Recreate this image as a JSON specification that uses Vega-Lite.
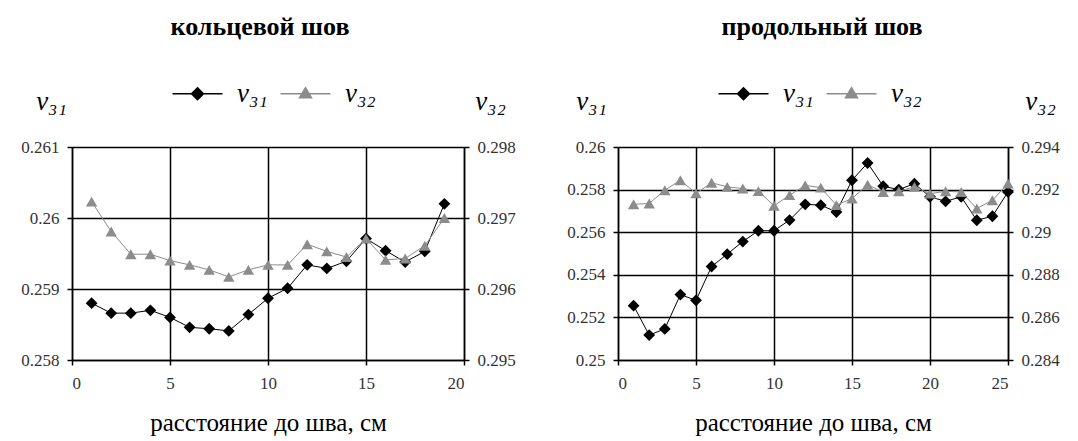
{
  "$schema": "https://vega.github.io/schema/vega-lite/v6.json",
  "padding": {"left": 20, "top": 14, "right": 2, "bottom": 2},
  "background": "white",
  "bounds": "flush",
  "spacing": 154,
  "config": {
    "view": {"stroke": null},
    "font": "Liberation Serif",
    "axis": {"labelFont": "Liberation Serif", "labelFontSize": 17, "labelColor": "#333333", "domainColor": "black", "domainWidth": 1.5, "tickColor": "black", "tickWidth": 1.5, "tickSize": 5, "gridColor": "black", "gridWidth": 1.5, "gridOpacity": 1, "titleFont": "Liberation Serif", "titleFontWeight": "normal", "titleColor": "black"},
    "title": {"font": "Liberation Serif", "fontSize": 26, "fontWeight": "bold", "color": "black"}
  },
  "datasets": {
    "ring": [
      {"x": 1, "s": "ν₃₁", "v": 0.2588}, {"x": 2, "s": "ν₃₁", "v": 0.25866}, {"x": 3, "s": "ν₃₁", "v": 0.25866}, {"x": 4, "s": "ν₃₁", "v": 0.2587}, {"x": 5, "s": "ν₃₁", "v": 0.2586}, {"x": 6, "s": "ν₃₁", "v": 0.25846}, {"x": 7, "s": "ν₃₁", "v": 0.25844}, {"x": 8, "s": "ν₃₁", "v": 0.25841}, {"x": 9, "s": "ν₃₁", "v": 0.25864}, {"x": 10, "s": "ν₃₁", "v": 0.25887}, {"x": 11, "s": "ν₃₁", "v": 0.25901}, {"x": 12, "s": "ν₃₁", "v": 0.25934}, {"x": 13, "s": "ν₃₁", "v": 0.25929}, {"x": 14, "s": "ν₃₁", "v": 0.25939}, {"x": 15, "s": "ν₃₁", "v": 0.25971}, {"x": 16, "s": "ν₃₁", "v": 0.25954}, {"x": 17, "s": "ν₃₁", "v": 0.25938}, {"x": 18, "s": "ν₃₁", "v": 0.25953}, {"x": 19, "s": "ν₃₁", "v": 0.2602},
      {"x": 1, "s": "ν₃₂", "v": 0.29723}, {"x": 2, "s": "ν₃₂", "v": 0.29681}, {"x": 3, "s": "ν₃₂", "v": 0.29649}, {"x": 4, "s": "ν₃₂", "v": 0.29649}, {"x": 5, "s": "ν₃₂", "v": 0.2964}, {"x": 6, "s": "ν₃₂", "v": 0.29634}, {"x": 7, "s": "ν₃₂", "v": 0.29627}, {"x": 8, "s": "ν₃₂", "v": 0.29617}, {"x": 9, "s": "ν₃₂", "v": 0.29627}, {"x": 10, "s": "ν₃₂", "v": 0.29634}, {"x": 11, "s": "ν₃₂", "v": 0.29634}, {"x": 12, "s": "ν₃₂", "v": 0.29663}, {"x": 13, "s": "ν₃₂", "v": 0.29653}, {"x": 14, "s": "ν₃₂", "v": 0.29645}, {"x": 15, "s": "ν₃₂", "v": 0.29671}, {"x": 16, "s": "ν₃₂", "v": 0.29641}, {"x": 17, "s": "ν₃₂", "v": 0.29643}, {"x": 18, "s": "ν₃₂", "v": 0.29661}, {"x": 19, "s": "ν₃₂", "v": 0.297}
    ],
    "long": [
      {"x": 1, "s": "ν₃₁", "v": 0.25255}, {"x": 2, "s": "ν₃₁", "v": 0.25117}, {"x": 3, "s": "ν₃₁", "v": 0.25146}, {"x": 4, "s": "ν₃₁", "v": 0.25307}, {"x": 5, "s": "ν₃₁", "v": 0.2528}, {"x": 6, "s": "ν₃₁", "v": 0.25439}, {"x": 7, "s": "ν₃₁", "v": 0.25497}, {"x": 8, "s": "ν₃₁", "v": 0.25556}, {"x": 9, "s": "ν₃₁", "v": 0.25607}, {"x": 10, "s": "ν₃₁", "v": 0.25607}, {"x": 11, "s": "ν₃₁", "v": 0.25657}, {"x": 12, "s": "ν₃₁", "v": 0.25731}, {"x": 13, "s": "ν₃₁", "v": 0.25727}, {"x": 14, "s": "ν₃₁", "v": 0.25695}, {"x": 15, "s": "ν₃₁", "v": 0.25844}, {"x": 16, "s": "ν₃₁", "v": 0.25925}, {"x": 17, "s": "ν₃₁", "v": 0.25816}, {"x": 18, "s": "ν₃₁", "v": 0.258}, {"x": 19, "s": "ν₃₁", "v": 0.25828}, {"x": 20, "s": "ν₃₁", "v": 0.25766}, {"x": 21, "s": "ν₃₁", "v": 0.25745}, {"x": 22, "s": "ν₃₁", "v": 0.25766}, {"x": 23, "s": "ν₃₁", "v": 0.25656}, {"x": 24, "s": "ν₃₁", "v": 0.25675}, {"x": 25, "s": "ν₃₁", "v": 0.25789},
      {"x": 1, "s": "ν₃₂", "v": 0.29131}, {"x": 2, "s": "ν₃₂", "v": 0.29135}, {"x": 3, "s": "ν₃₂", "v": 0.29197}, {"x": 4, "s": "ν₃₂", "v": 0.29244}, {"x": 5, "s": "ν₃₂", "v": 0.29182}, {"x": 6, "s": "ν₃₂", "v": 0.29232}, {"x": 7, "s": "ν₃₂", "v": 0.29213}, {"x": 8, "s": "ν₃₂", "v": 0.29205}, {"x": 9, "s": "ν₃₂", "v": 0.29193}, {"x": 10, "s": "ν₃₂", "v": 0.29124}, {"x": 11, "s": "ν₃₂", "v": 0.29174}, {"x": 12, "s": "ν₃₂", "v": 0.2922}, {"x": 13, "s": "ν₃₂", "v": 0.29209}, {"x": 14, "s": "ν₃₂", "v": 0.29127}, {"x": 15, "s": "ν₃₂", "v": 0.29158}, {"x": 16, "s": "ν₃₂", "v": 0.29223}, {"x": 17, "s": "ν₃₂", "v": 0.29189}, {"x": 18, "s": "ν₃₂", "v": 0.29192}, {"x": 19, "s": "ν₃₂", "v": 0.29213}, {"x": 20, "s": "ν₃₂", "v": 0.29181}, {"x": 21, "s": "ν₃₂", "v": 0.29192}, {"x": 22, "s": "ν₃₂", "v": 0.29189}, {"x": 23, "s": "ν₃₂", "v": 0.29111}, {"x": 24, "s": "ν₃₂", "v": 0.2915}, {"x": 25, "s": "ν₃₂", "v": 0.29228}
    ]
  },
  "hconcat": [
    {
      "width": 392, "height": 213,
      "data": {"name": "ring"},
      "title": {"text": "кольцевой шов", "dx": -8, "offset": 40},
      "encoding": {
        "x": {"field": "x", "type": "quantitative", "scale": {"domain": [0, 20], "nice": false}, "axis": {"values": [0, 5, 10, 15, 20], "grid": true, "labelPadding": 10, "title": "расстояние до шва, см", "titleFontSize": 25, "titleY": 70, "titleBaseline": "alphabetic"}}
      },
      "layer": [
        {
          "transform": [{"filter": "datum.s == 'ν₃₁'"}],
          "mark": {"type": "line", "strokeWidth": 1, "point": {"shape": "diamond", "size": 140, "filled": true, "opacity": 1}},
          "encoding": {
            "y": {"field": "v", "type": "quantitative", "scale": {"domain": [0.258, 0.261], "nice": false, "zero": false}, "axis": {"orient": "left", "values": [0.258, 0.259, 0.26, 0.261], "format": ".3~f", "grid": true, "labelPadding": 8, "title": "ν₃₁", "titleAngle": 0, "titleX": -21, "titleY": -46, "titleAlign": "center", "titleBaseline": "middle", "titleFontSize": 27, "titleFontStyle": "italic"}},
            "color": {"field": "s", "type": "nominal", "scale": {"domain": ["ν₃₁", "ν₃₂"], "range": ["black", "#8c8c8c"]},
              "legend": {"orient": "none", "legendX": 112, "legendY": -67, "direction": "horizontal", "title": null, "symbolSize": 400, "labelFontSize": 27, "labelFont": "Liberation Serif", "labelFontStyle": "italic", "labelColor": "black", "labelOffset": 26, "columnPadding": 9, "symbolStrokeWidth": 1.5,
                "encode": {"symbols": {"update": {
                  "shape": {"signal": "datum.value == 'ν₃₁' ? 'M-2.5,0H2.5M0,-0.6L0.6,0L0,0.6L-0.6,0Z' : 'M-2.5,0H2.5M0,-0.6L0.6,0.4L-0.6,0.4Z'"},
                  "fill": {"signal": "datum.value == 'ν₃₁' ? 'black' : '#8c8c8c'"},
                  "stroke": {"signal": "datum.value == 'ν₃₁' ? 'black' : '#8c8c8c'"},
                  "opacity": {"value": 1}, "fillOpacity": {"value": 1}, "strokeOpacity": {"value": 1}}}}}}
          }
        },
        {
          "transform": [{"filter": "datum.s == 'ν₃₂'"}],
          "mark": {"type": "line", "strokeWidth": 1, "point": {"shape": "triangle-up", "size": 130, "filled": true, "opacity": 1}},
          "encoding": {
            "y": {"field": "v", "type": "quantitative", "scale": {"domain": [0.295, 0.298], "nice": false, "zero": false}, "axis": {"orient": "right", "values": [0.295, 0.296, 0.297, 0.298], "format": ".3~f", "grid": false, "labelPadding": 8, "title": "ν₃₂", "titleAngle": 0, "titleX": 26, "titleY": -46, "titleAlign": "center", "titleBaseline": "middle", "titleFontSize": 27, "titleFontStyle": "italic"}},
            "color": {"field": "s", "type": "nominal", "scale": {"domain": ["ν₃₁", "ν₃₂"], "range": ["black", "#8c8c8c"]},
              "legend": {"orient": "none", "legendX": 112, "legendY": -67, "direction": "horizontal", "title": null, "symbolSize": 400, "labelFontSize": 27, "labelFont": "Liberation Serif", "labelFontStyle": "italic", "labelColor": "black", "labelOffset": 26, "columnPadding": 9, "symbolStrokeWidth": 1.5,
                "encode": {"symbols": {"update": {
                  "shape": {"signal": "datum.value == 'ν₃₁' ? 'M-2.5,0H2.5M0,-0.6L0.6,0L0,0.6L-0.6,0Z' : 'M-2.5,0H2.5M0,-0.6L0.6,0.4L-0.6,0.4Z'"},
                  "fill": {"signal": "datum.value == 'ν₃₁' ? 'black' : '#8c8c8c'"},
                  "stroke": {"signal": "datum.value == 'ν₃₁' ? 'black' : '#8c8c8c'"},
                  "opacity": {"value": 1}, "fillOpacity": {"value": 1}, "strokeOpacity": {"value": 1}}}}}}
          }
        }
      ],
      "resolve": {"scale": {"y": "independent"}}
    },
    {
      "width": 390, "height": 213,
      "data": {"name": "long"},
      "title": {"text": "продольный шов", "dx": 9, "offset": 40},
      "encoding": {
        "x": {"field": "x", "type": "quantitative", "scale": {"domain": [0, 25], "nice": false}, "axis": {"values": [0, 5, 10, 15, 20, 25], "grid": true, "labelPadding": 10, "title": "расстояние до шва, см", "titleFontSize": 25, "titleY": 70, "titleBaseline": "alphabetic"}}
      },
      "layer": [
        {
          "transform": [{"filter": "datum.s == 'ν₃₁'"}],
          "mark": {"type": "line", "strokeWidth": 1, "point": {"shape": "diamond", "size": 140, "filled": true, "opacity": 1}},
          "encoding": {
            "y": {"field": "v", "type": "quantitative", "scale": {"domain": [0.25, 0.26], "nice": false, "zero": false}, "axis": {"orient": "left", "values": [0.25, 0.252, 0.254, 0.256, 0.258, 0.26], "format": ".3~f", "grid": true, "labelPadding": 8, "title": "ν₃₁", "titleAngle": 0, "titleX": -27, "titleY": -46, "titleAlign": "center", "titleBaseline": "middle", "titleFontSize": 27, "titleFontStyle": "italic"}},
            "color": {"field": "s", "type": "nominal", "scale": {"domain": ["ν₃₁", "ν₃₂"], "range": ["black", "#8c8c8c"]},
              "legend": {"orient": "none", "legendX": 112, "legendY": -67, "direction": "horizontal", "title": null, "symbolSize": 400, "labelFontSize": 27, "labelFont": "Liberation Serif", "labelFontStyle": "italic", "labelColor": "black", "labelOffset": 26, "columnPadding": 9, "symbolStrokeWidth": 1.5,
                "encode": {"symbols": {"update": {
                  "shape": {"signal": "datum.value == 'ν₃₁' ? 'M-2.5,0H2.5M0,-0.6L0.6,0L0,0.6L-0.6,0Z' : 'M-2.5,0H2.5M0,-0.6L0.6,0.4L-0.6,0.4Z'"},
                  "fill": {"signal": "datum.value == 'ν₃₁' ? 'black' : '#8c8c8c'"},
                  "stroke": {"signal": "datum.value == 'ν₃₁' ? 'black' : '#8c8c8c'"},
                  "opacity": {"value": 1}, "fillOpacity": {"value": 1}, "strokeOpacity": {"value": 1}}}}}}
          }
        },
        {
          "transform": [{"filter": "datum.s == 'ν₃₂'"}],
          "mark": {"type": "line", "strokeWidth": 1, "point": {"shape": "triangle-up", "size": 130, "filled": true, "opacity": 1}},
          "encoding": {
            "y": {"field": "v", "type": "quantitative", "scale": {"domain": [0.284, 0.294], "nice": false, "zero": false}, "axis": {"orient": "right", "values": [0.284, 0.286, 0.288, 0.29, 0.292, 0.294], "format": ".3~f", "grid": false, "labelPadding": 8, "title": "ν₃₂", "titleAngle": 0, "titleX": 32, "titleY": -46, "titleAlign": "center", "titleBaseline": "middle", "titleFontSize": 27, "titleFontStyle": "italic"}},
            "color": {"field": "s", "type": "nominal", "scale": {"domain": ["ν₃₁", "ν₃₂"], "range": ["black", "#8c8c8c"]},
              "legend": {"orient": "none", "legendX": 112, "legendY": -67, "direction": "horizontal", "title": null, "symbolSize": 400, "labelFontSize": 27, "labelFont": "Liberation Serif", "labelFontStyle": "italic", "labelColor": "black", "labelOffset": 26, "columnPadding": 9, "symbolStrokeWidth": 1.5,
                "encode": {"symbols": {"update": {
                  "shape": {"signal": "datum.value == 'ν₃₁' ? 'M-2.5,0H2.5M0,-0.6L0.6,0L0,0.6L-0.6,0Z' : 'M-2.5,0H2.5M0,-0.6L0.6,0.4L-0.6,0.4Z'"},
                  "fill": {"signal": "datum.value == 'ν₃₁' ? 'black' : '#8c8c8c'"},
                  "stroke": {"signal": "datum.value == 'ν₃₁' ? 'black' : '#8c8c8c'"},
                  "opacity": {"value": 1}, "fillOpacity": {"value": 1}, "strokeOpacity": {"value": 1}}}}}}
          }
        }
      ],
      "resolve": {"scale": {"y": "independent"}}
    }
  ],
  "resolve": {"scale": {"color": "independent"}, "legend": {"color": "independent"}}
}
